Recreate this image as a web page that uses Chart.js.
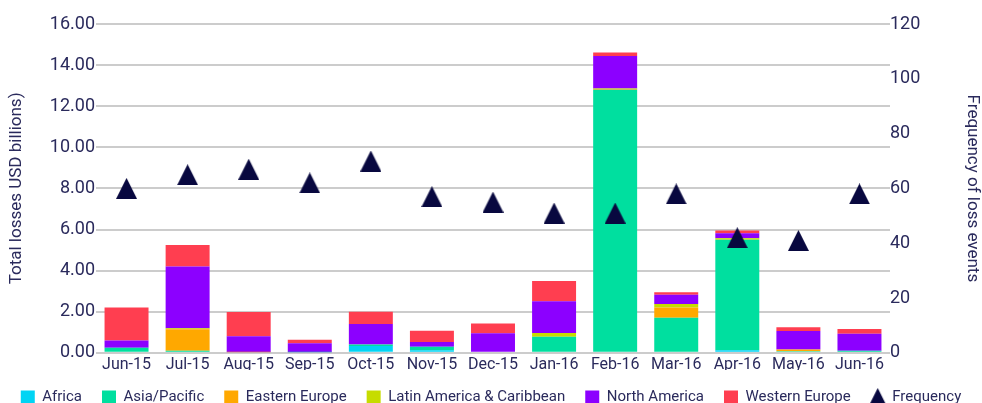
<!DOCTYPE html>
<html>
<head>
<meta charset="utf-8">
<script src="https://cdn.jsdelivr.net/npm/chart.js@4.4.1/dist/chart.umd.min.js"></script>
<style>
   html, body { margin: 0; padding: 0; background: #ffffff; }
   #wrap { width: 982px; height: 403px; }
</style>
</head>
<body>
<div id="wrap"><canvas id="chart" width="982" height="403"></canvas></div>
<script>
// Données
const months = ['Jun-15', 'Jul-15', 'Aug-15', 'Sep-15', 'Oct-15', 'Nov-15', 'Dec-15', 'Jan-16', 'Feb-16', 'Mar-16', 'Apr-16', 'May-16', 'Jun-16'];
const africa = [0, 0, 0, 0, 0.33, 0.12, 0, 0, 0, 0, 0.13, 0, 0];
const asiaPacific = [0.25, 0.1, 0, 0.03, 0.07, 0.18, 0.05, 0.78, 12.8, 1.7, 5.37, 0.08, 0.1];
const easternEurope = [0, 1.05, 0.03, 0, 0, 0, 0, 0, 0.035, 0.5, 0, 0.08, 0];
const latinAmerica = [0, 0.05, 0, 0, 0, 0, 0, 0.18, 0.03, 0.17, 0.07, 0, 0];
const northAmerica = [0.35, 3.0, 0.78, 0.43, 1.0, 0.23, 0.9, 1.55, 1.58, 0.46, 0.25, 0.9, 0.83];
const westernEurope = [1.6, 1.05, 1.17, 0.17, 0.6, 0.54, 0.48, 0.98, 0.17, 0.12, 0.13, 0.18, 0.23];
const frequency = [60, 65, 67, 62, 70, 57, 55, 51, 51, 58, 42, 41, 58];

const textColor = '#2a2a5c';
const navy = '#08083f';

// Marqueur triangle (pointStyle)
function makeTriangle(w, h) {
   const c = document.createElement('canvas');
   c.width = w;
   c.height = h;
   const ctx = c.getContext('2d');
   ctx.fillStyle = navy;
   ctx.beginPath();
   ctx.moveTo(0, h);
   ctx.lineTo(w / 2, 0);
   ctx.lineTo(w, h);
   ctx.closePath();
   ctx.fill();
   return c;
}
const triangle = makeTriangle(21, 21);
const legendTriangle = makeTriangle(19, 19);

function barSet(label, data, color) {
   return {
      type: 'bar',
      label: label,
      data: data,
      backgroundColor: color,
      borderWidth: 0,
      stack: 'losses',
      yAxisID: 'y',
      order: 1,
      barPercentage: 0.72,
      categoryPercentage: 1
   };
}

// Hauteur fixe de la légende
const legendHeight = {
   id: 'legendHeight',
   beforeInit(c) {
      const fit = c.legend.fit;
      c.legend.fit = function() {
         fit.call(this);
         this.height = 33;
      };
   }
};

const chart = new Chart(document.getElementById('chart'), {
   data: {
      labels: months,
      datasets: [
         barSet('Africa', africa, '#00d4f4'),
         barSet('Asia/Pacific', asiaPacific, '#00df9f'),
         barSet('Eastern Europe', easternEurope, '#ffa800'),
         barSet('Latin America & Caribbean', latinAmerica, '#c6dc00'),
         barSet('North America', northAmerica, '#8c00ff'),
         barSet('Western Europe', westernEurope, '#ff3e50'),
         {
            type: 'line',
            label: 'Frequency',
            data: frequency,
            yAxisID: 'y1',
            showLine: false,
            pointStyle: triangle,
            backgroundColor: navy,
            borderColor: navy,
            order: 0
         }
      ]
   },
   plugins: [legendHeight],
   options: {
      responsive: false,
      animation: false,
      events: [],
      layout: {
         padding: { top: 24, left: 0, right: 0, bottom: 0 }
      },
      scales: {
         x: {
            offset: true,
            grid: { display: false },
            border: { display: false },
            ticks: {
               color: textColor,
               font: { family: 'Roboto', size: 16 },
               padding: -5,
               maxRotation: 0,
               autoSkip: false
            }
         },
         y: {
            position: 'left',
            stacked: true,
            min: 0,
            max: 16,
            border: { display: false },
            grid: { color: '#cccccc', lineWidth: 2, drawTicks: false },
            ticks: {
               stepSize: 2,
               color: textColor,
               font: { family: 'Roboto', size: 18 },
               padding: 1,
               callback: v => v.toFixed(2)
            },
            title: {
               display: true,
               text: 'Total losses USD billions)',
               color: textColor,
               font: { family: 'Roboto', size: 17 },
               padding: { top: 7, bottom: 0 }
            },
            afterFit: scale => { scale.width = 96; }
         },
         y1: {
            position: 'right',
            min: 0,
            max: 120,
            border: { display: false },
            grid: { display: false, drawTicks: false },
            ticks: {
               stepSize: 20,
               color: textColor,
               font: { family: 'Roboto', size: 18 },
               padding: 0
            },
            title: {
               display: true,
               text: 'Frequency of loss events',
               color: textColor,
               font: { family: 'Roboto', size: 17 },
               padding: { top: 0, bottom: 0 }
            },
            afterFit: scale => { scale.width = 92; }
         }
      },
      plugins: {
         legend: {
            position: 'bottom',
            labels: {
               color: textColor,
               font: { family: 'Roboto', size: 15 },
               usePointStyle: true,
               boxWidth: 14,
               boxHeight: 14,
               padding: 20,
               sort: (a, b) => a.datasetIndex - b.datasetIndex,
               generateLabels: c => {
                  const items = Chart.defaults.plugins.legend.labels.generateLabels(c);
                  items.forEach(item => {
                     item.pointStyle = item.text === 'Frequency' ? legendTriangle : 'rect';
                     item.lineWidth = 0;
                  });
                  return items;
               }
            }
         },
         tooltip: { enabled: false }
      }
   }
});
</script>
</body>
</html>
